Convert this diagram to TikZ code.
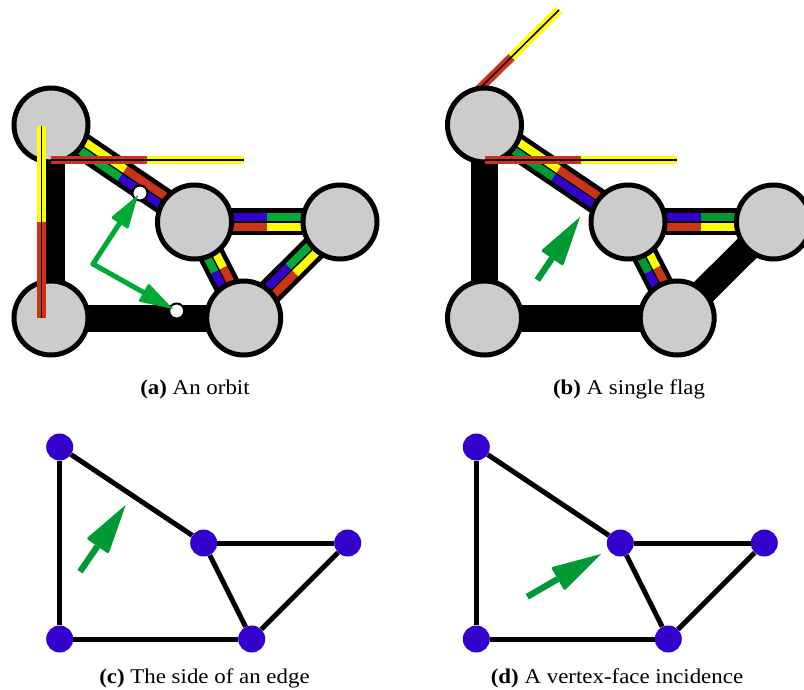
\documentclass[tikz,border=0pt]{standalone}
\usepackage{fontspec}
\setmainfont[FakeStretch=1.09]{Liberation Serif}
\usetikzlibrary{calc}
\definecolor{bandblue}{HTML}{3300CC}
\definecolor{bandred}{HTML}{CC3319}
\definecolor{bandyellow}{HTML}{FFFF00}
\definecolor{greena}{HTML}{00AA33}
\definecolor{greenb}{HTML}{009933}
\definecolor{vertgray}{HTML}{CCCCCC}
\tikzset{
  x=1pt,y=-1pt,
  bigvert/.style={circle,draw=black,fill=vertgray,line width=5pt,minimum size=74pt,inner sep=0pt},
  smallvert/.style={circle,fill=bandblue,minimum size=27pt,inner sep=0pt},
  hole/.style={circle,draw=black,fill=white,line width=2pt,minimum size=15pt,inner sep=0pt},
  thickedge/.style={line width=27pt,black},
  thinedge/.style={line width=5pt,black},
  band/.style={line width=8pt},
  captext/.style={font=\fontsize{21}{24}\selectfont,inner sep=0pt},
}
% a to b edge with four coloured bands; #3,#4 = left/right near a, #5,#6 = left/right near b
\newcommand{\flagedge}[6]{%
  \draw[thickedge] (#1) -- (#2);
  \coordinate (m) at ($(#1)!.5!(#2)$);
  \coordinate (al) at ($(#1)!4.8pt!90:(#2)$);
  \coordinate (ar) at ($(#1)!4.8pt!-90:(#2)$);
  \coordinate (ml) at ($(m)!4.8pt!90:(#2)$);
  \coordinate (mr) at ($(m)!4.8pt!-90:(#2)$);
  \coordinate (bl) at ($(#2)!4.8pt!-90:(#1)$);
  \coordinate (br) at ($(#2)!4.8pt!90:(#1)$);
  \draw[band,#3] (al) -- (ml);
  \draw[band,#4] (ar) -- (mr);
  \draw[band,#5] (ml) -- (bl);
  \draw[band,#6] (mr) -- (br);
}
% single flag bar: start, split, end
\newcommand{\flagbar}[3]{%
  \draw[line width=8.7pt,bandred] (#1) -- (#2);
  \draw[line width=8.7pt,bandyellow] (#2) -- (#3);
  \draw[line width=1.5pt,black] (#1) -- (#3);
}
% arrow: tail, tip, head length, head half-width, shaft width, colour
\newcommand{\greenarrow}[6]{%
  \coordinate (hb) at ($(#2)!#3!(#1)$);
  \coordinate (hl) at ($(hb)!#4!90:(#2)$);
  \coordinate (hr) at ($(hb)!#4!-90:(#2)$);
  \draw[#6,line width=#5] (#1) -- (hb);
  \fill[#6] (#2) [rounded corners=1.5pt] -- (hl) -- (hr) [sharp corners] -- cycle;
}
\begin{document}
\begin{tikzpicture}
\useasboundingbox (0,0) rectangle (804,690);
% ---------- panel a
\coordinate (a1) at (51,125);
\coordinate (a2) at (194.5,222);
\coordinate (a3) at (340,222);
\coordinate (a4) at (243.7,318);
\coordinate (a5) at (51,318);
\draw[thickedge] (a1) -- (a5);
\draw[thickedge] (a5) -- (a4);
\flagedge{a1}{a2}{bandyellow}{greena}{bandred}{bandblue}
\flagedge{a2}{a3}{bandblue}{bandred}{greena}{bandyellow}
\flagedge{a2}{a4}{bandyellow}{greena}{bandred}{bandblue}
\flagedge{a4}{a3}{bandblue}{bandred}{greena}{bandyellow}
\node[bigvert] (na1) at (a1) {};
\node[bigvert] (na2) at (a2) {};
\node[bigvert] (na3) at (a3) {};
\node[bigvert] (na4) at (a4) {};
\node[bigvert] (na5) at (a5) {};
\coordinate (fa1) at (51,160);
\coordinate (fa1m) at (147,160);
\coordinate (fa1e) at (243.5,160);
\flagbar{fa1}{fa1m}{fa1e}
\coordinate (fa2) at (41.5,318);
\coordinate (fa2m) at (41.5,222);
\coordinate (fa2e) at (41.5,126);
\flagbar{fa2}{fa2m}{fa2e}
\node[hole] (h1) at (140,193) {};
\node[hole] (h2) at (176.7,311) {};
\coordinate (ac) at (93,264);
\coordinate (ta1) at (138,195);
\coordinate (ta2) at (173,309);
\greenarrow{ac}{ta1}{34pt}{10.5pt}{5pt}{greena,line cap=round}
\greenarrow{ac}{ta2}{34pt}{10.5pt}{5pt}{greena,line cap=round}
\node[captext] (ca) at (195,389) {\textbf{(a)} An orbit};
% ---------- panel b
\coordinate (b1) at (484.5,125);
\coordinate (b2) at (628,222);
\coordinate (b3) at (773.5,222);
\coordinate (b4) at (677.2,318);
\coordinate (b5) at (484.5,318);
\coordinate (fb2) at (470,98);
\coordinate (fb2m) at (511.7,57);
\coordinate (fb2e) at (559,10);
\flagbar{fb2}{fb2m}{fb2e}
\draw[thickedge] (b1) -- (b5);
\draw[thickedge] (b5) -- (b4);
\draw[thickedge] (b4) -- (b3);
\flagedge{b1}{b2}{bandyellow}{greenb}{bandred}{bandblue}
\flagedge{b2}{b3}{bandblue}{bandred}{greenb}{bandyellow}
\flagedge{b2}{b4}{bandyellow}{greenb}{bandred}{bandblue}
\node[bigvert] (nb1) at (b1) {};
\node[bigvert] (nb2) at (b2) {};
\node[bigvert] (nb3) at (b3) {};
\node[bigvert] (nb4) at (b4) {};
\node[bigvert] (nb5) at (b5) {};
\coordinate (fb1) at (485,160);
\coordinate (fb1m) at (580.7,160);
\coordinate (fb1e) at (677,160);
\flagbar{fb1}{fb1m}{fb1e}
\coordinate (bt) at (537.3,280);
\coordinate (bh) at (580,217);
\greenarrow{bt}{bh}{50pt}{13.5pt}{6.3pt}{greenb}
\node[captext] (cb) at (629,389) {\textbf{(b)} A single flag};
% ---------- panel c
\node[smallvert] (c1) at (59.7,447) {};
\node[smallvert] (c2) at (203.7,543) {};
\node[smallvert] (c3) at (347.7,543) {};
\node[smallvert] (c4) at (251.7,639) {};
\node[smallvert] (c5) at (59.7,639) {};
\draw[thinedge] (c1) -- (c2);
\draw[thinedge] (c2) -- (c3);
\draw[thinedge] (c2) -- (c4);
\draw[thinedge] (c3) -- (c4);
\draw[thinedge] (c1) -- (c5);
\draw[thinedge] (c5) -- (c4);
\coordinate (ct) at (80,571.7);
\coordinate (ch) at (125.7,505);
\greenarrow{ct}{ch}{50pt}{13.5pt}{6.3pt}{greenb}
\node[captext] (cc) at (204.5,678) {\textbf{(c)} The side of an edge};
% ---------- panel d
\node[smallvert] (d1) at (476.3,447) {};
\node[smallvert] (d2) at (620.3,543) {};
\node[smallvert] (d3) at (764.3,543) {};
\node[smallvert] (d4) at (668.3,639) {};
\node[smallvert] (d5) at (476.3,639) {};
\draw[thinedge] (d1) -- (d2);
\draw[thinedge] (d2) -- (d3);
\draw[thinedge] (d2) -- (d4);
\draw[thinedge] (d3) -- (d4);
\draw[thinedge] (d1) -- (d5);
\draw[thinedge] (d5) -- (d4);
\coordinate (dt) at (527.3,596.7);
\coordinate (dh) at (601,554);
\greenarrow{dt}{dh}{50pt}{13.5pt}{6.3pt}{greenb}
\node[captext] (cd) at (617,678) {\textbf{(d)} A vertex-face incidence};
\end{tikzpicture}
\end{document}
